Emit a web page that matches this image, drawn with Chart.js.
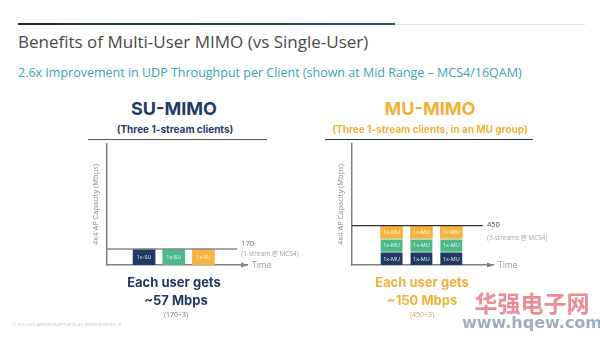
<!DOCTYPE html>
<html>
<head>
<meta charset="utf-8">
<script src="https://cdn.jsdelivr.net/npm/chart.js@4/dist/chart.umd.min.js"></script>
<style>
  html, body { margin:0; padding:0; background:#fff; }
  #slide { position:relative; width:600px; height:338px; overflow:hidden; background:#fff; font-family:"Open Sans", sans-serif; }
  .t { position:absolute; white-space:nowrap; }
  canvas { position:absolute; }
</style>
</head>
<body>
<div id="slide">
  <div style="position:absolute;left:18px;top:23px;width:377px;height:2px;background:linear-gradient(to right,#1f2c33,#2f5560);"></div>
  <div style="position:absolute;left:395px;top:24px;width:190px;height:1px;background:#d5e7ea;"></div>
  <div class="t" style="left:18px;top:31px;font-size:17px;line-height:22px;color:#4a4a4a;">Benefits of Multi-User MIMO (vs Single-User)</div>
  <div class="t" style="left:18px;top:65px;font-size:12.5px;line-height:16px;color:#3aa2b4;">2.6x Improvement in UDP Throughput per Client (shown at Mid Range – MCS4/16QAM)</div>
  <div style="position:absolute;left:88px;top:139px;width:179px;height:1px;background:#555;"></div>
  <div style="position:absolute;left:325px;top:139px;width:208px;height:1px;background:#333;"></div>
  <canvas id="su" width="260" height="145" style="left:60px;top:135px;width:260px;height:145px;"></canvas>
  <canvas id="mu" width="270" height="145" style="left:320px;top:135px;width:270px;height:145px;"></canvas>
</div>
<script>
// ---- data ----
const suSlots = [1, 2, 3];
const suValues = [170, 170, 170];
const suBarLabels = ['1x-SU', '1x-SU', '1x-SU'];
const suCapacity = 170;
const suCapacityLabel = '170';
const suCapacityNote = '(1-stream @ MCS4)';

const muSlots = [1, 2, 3];
const muClient1 = [150, 150, 150];
const muClient2 = [150, 150, 150];
const muClient3 = [150, 150, 150];
const muBarLabels = ['1x-MU', '1x-MU', '1x-MU'];
const muCapacity = 450;
const muCapacityLabel = '450';
const muCapacityNote = '(3-streams @ MCS4)';

const yAxisTitle = '4x4 AP Capacity (Mbps)';
const xAxisTitle = 'Time';

// ---- styles ----
const NAVY = '#1f3b63', GREEN = '#4db98a', ORANGE = '#f5b442';
const ORANGE_TXT = '#f2b03a';

function txt(s, cx, cy, css) {
  const d = document.createElement('div');
  d.className = 't';
  d.textContent = s;
  d.style.cssText += css;
  d.style.left = (cx - 150) + 'px';
  d.style.width = '300px';
  d.style.textAlign = 'center';
  d.style.top = cy + 'px';
  d.style.transform = 'translateY(-50%)';
  document.getElementById('slide').appendChild(d);
}
txt('SU-MIMO', 174, 108, 'font-family:Inter,sans-serif;font-weight:700;font-size:18px;color:' + NAVY + ';');
txt('(Three 1-stream clients)', 175, 129, 'font-family:Inter,sans-serif;font-weight:700;font-size:10px;color:' + NAVY + ';');
txt('MU-MIMO', 430, 108, 'font-family:Inter,sans-serif;font-weight:700;font-size:18px;color:' + ORANGE_TXT + ';');
txt('(Three 1-stream clients, in an MU group)', 430, 129, 'font-family:Inter,sans-serif;font-weight:700;font-size:10px;color:' + ORANGE_TXT + ';');
txt('Each user gets', 174, 282, 'font-family:Inter,sans-serif;font-weight:700;font-size:13px;color:' + NAVY + ';');
txt('~57 Mbps', 176, 300, 'font-family:Inter,sans-serif;font-weight:700;font-size:13px;color:' + NAVY + ';');
txt('(170÷3)', 176, 314, 'font-size:7px;color:#777;');
txt('Each user gets', 422, 282, 'font-family:Inter,sans-serif;font-weight:700;font-size:13px;color:' + ORANGE_TXT + ';');
txt('~150 Mbps', 422, 300, 'font-family:Inter,sans-serif;font-weight:700;font-size:13px;color:' + ORANGE_TXT + ';');
txt('(450÷3)', 422, 314, 'font-size:7px;color:#c9a560;');
txt('华强电子网', 532, 302, 'font-family:"Noto Sans CJK SC",sans-serif;font-weight:700;font-size:23px;color:rgba(232,110,122,0.8);');
txt('www.hqew.com', 532, 322, 'font-family:"DejaVu Sans",sans-serif;font-weight:700;font-size:16px;color:rgba(140,160,185,0.85);');
txt('© 2016 CISCO AND/OR ITS AFFILIATES. ALL RIGHTS RESERVED. 16', 67, 324, 'font-size:3.6px;color:#bbb;');

Chart.defaults.font.family = '"Open Sans", sans-serif';

const decorPlugin = {
  id: 'decor',
  afterDatasetsDraw(chart, args, opts) {
    const ctx = chart.ctx;
    const xs = chart.scales.x, ys = chart.scales.y;
    const ca = chart.chartArea;
    ctx.save();
    // bar labels
    chart.data.datasets.forEach((ds, di) => {
      if (ds.type === 'line') return;
      const meta = chart.getDatasetMeta(di);
      meta.data.forEach((el, i) => {
        ctx.fillStyle = 'rgba(255,255,255,0.9)';
        ctx.font = '5.5px "Open Sans", sans-serif';
        ctx.textAlign = 'center';
        ctx.textBaseline = 'middle';
        ctx.fillText(ds.barLabels[i], el.x, (el.y + el.base) / 2 + 0.5);
      });
    });
    // arrow head on time axis
    ctx.fillStyle = '#808080';
    ctx.beginPath();
    ctx.moveTo(ca.right + 1, ca.bottom);
    ctx.lineTo(ca.right - 6, ca.bottom - 2.6);
    ctx.lineTo(ca.right - 6, ca.bottom + 2.6);
    ctx.closePath();
    ctx.fill();
    // time label
    ctx.fillStyle = '#9a9a9a';
    ctx.font = '8.5px "Open Sans", sans-serif';
    ctx.textAlign = 'left';
    ctx.textBaseline = 'middle';
    ctx.fillText(xAxisTitle, ca.right + 5, ca.bottom + 0.5);
    // capacity labels
    const yc = ys.getPixelForValue(opts.capacity);
    const xe = xs.getPixelForValue(opts.lineEnd);
    ctx.fillStyle = opts.labelColor;
    ctx.font = '7.5px "Open Sans", sans-serif';
    ctx.fillText(opts.label, xe + 4, yc - 5 + opts.labelDy);
    ctx.fillStyle = '#a0a0a0';
    ctx.font = '6.5px "Open Sans", sans-serif';
    ctx.fillText(opts.note, xe + 4, yc + 5 + opts.noteDy);
    ctx.restore();
  }
};

function axes(xMin, xMax, yMax, stacked) {
  return {
    x: { type: 'linear', min: xMin, max: xMax, stacked: stacked, offset: false,
         grid: { display: false, drawTicks: false, offset: false }, ticks: { display: false },
         border: { display: true, color: '#808080', width: 1.5 } },
    y: { type: 'linear', min: 0, max: yMax, stacked: stacked,
         grid: { display: false, drawTicks: false }, ticks: { display: false },
         border: { display: true, color: '#808080', width: 1.5 },
         title: { display: true, text: yAxisTitle, color: '#8a8a8a', font: { size: 7.5 }, padding: { top: 0, bottom: 6 } } }
  };
}

const suXMin = -0.27, suXMax = 4.47, suLineEnd = 4.14;
new Chart(document.getElementById('su'), {
  type: 'bar',
  data: {
    datasets: [
      { type: 'line', data: [{ x: suXMin, y: suCapacity }, { x: suLineEnd, y: suCapacity }],
        borderColor: '#8a8a8a', borderWidth: 1.5, pointRadius: 0, stack: 'ref' },
      { data: suSlots.map((s, i) => ({ x: s, y: suValues[i] })), barLabels: suBarLabels,
        backgroundColor: [NAVY, GREEN, ORANGE], barThickness: 22, borderWidth: 0 }
    ]
  },
  options: {
    responsive: false, animation: false, events: [],
    layout: { padding: { left: 31.4, top: 9, right: 73, bottom: 15 } },
    plugins: { legend: { display: false }, tooltip: { enabled: false },
      decor: { capacity: suCapacity, lineEnd: suLineEnd, label: suCapacityLabel, note: suCapacityNote, labelColor: '#666', labelDy: 0, noteDy: 0 } },
    scales: axes(suXMin, suXMax, 1290, false)
  },
  plugins: [decorPlugin]
});

const muXMin = -0.345, muXMax = 4.395, muLineEnd = 4.06;
new Chart(document.getElementById('mu'), {
  type: 'bar',
  data: {
    datasets: [
      { type: 'line', data: [{ x: muXMin, y: muCapacity }, { x: muLineEnd, y: muCapacity }],
        borderColor: '#333', borderWidth: 1.2, pointRadius: 0, stack: 'ref' },
      { data: muSlots.map((s, i) => ({ x: s, y: muClient1[i] })), barLabels: muBarLabels, stack: 'mu',
        backgroundColor: NAVY, barThickness: 22, borderColor: '#fff', borderWidth: { top: 1, left: 0, right: 0, bottom: 0 }, borderSkipped: false },
      { data: muSlots.map((s, i) => ({ x: s, y: muClient2[i] })), barLabels: muBarLabels, stack: 'mu',
        backgroundColor: GREEN, barThickness: 22, borderColor: '#fff', borderWidth: { top: 1, left: 0, right: 0, bottom: 0 }, borderSkipped: false },
      { data: muSlots.map((s, i) => ({ x: s, y: muClient3[i] })), barLabels: muBarLabels, stack: 'mu',
        backgroundColor: ORANGE, barThickness: 22, borderWidth: 0 }
    ]
  },
  options: {
    responsive: false, animation: false, events: [],
    layout: { padding: { left: 16.4, top: 9, right: 97, bottom: 15 } },
    plugins: { legend: { display: false }, tooltip: { enabled: false },
      decor: { capacity: muCapacity, lineEnd: muLineEnd, label: muCapacityLabel, note: muCapacityNote, labelColor: '#444', labelDy: 4, noteDy: 7 } },
    scales: axes(muXMin, muXMax, 1385, true)
  },
  plugins: [decorPlugin]
});
</script>
</body>
</html>
